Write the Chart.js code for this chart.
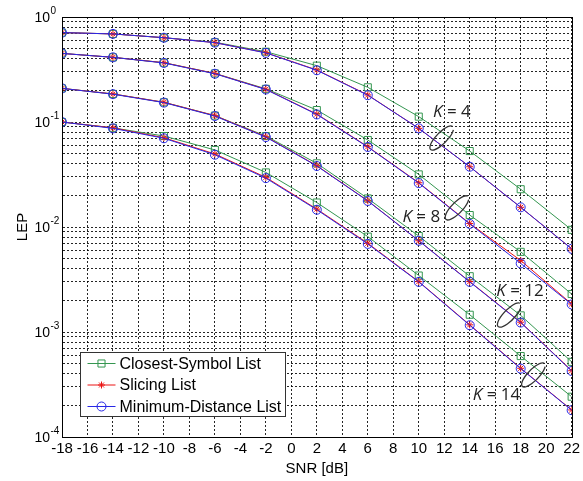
<!DOCTYPE html>
<html>
<head>
<meta charset="utf-8">
<script src="https://cdn.jsdelivr.net/npm/chart.js@4.4.0/dist/chart.umd.min.js"></script>
<style>
html, body { margin: 0; padding: 0; background: #fff; }
#wrap { width: 583px; height: 481px; }
</style>
</head>
<body>
<div id="wrap"><canvas id="graph-lep" width="583" height="481"></canvas></div>
<script>
// SNR points (dB) where markers sit
var snr = [-18, -14, -10, -6, -2, 2, 6, 10, 14, 18, 22];

var seriesNames = ['Closest-Symbol List', 'Slicing List', 'Minimum-Distance List'];
var kValues = [4, 8, 12, 14];

// LEP
var closestK4 = [0.71, 0.69, 0.635, 0.575, 0.467, 0.344, 0.214, 0.1125, 0.0529, 0.0229, 0.0094];
var slicingK4 = [0.71, 0.69, 0.635, 0.57, 0.457, 0.313, 0.181, 0.087, 0.0375, 0.0154, 0.0062];
var minDistK4 = [0.71, 0.69, 0.635, 0.57, 0.455, 0.311, 0.180, 0.087, 0.0375, 0.0154, 0.0062];

var closestK8 = [0.45, 0.413, 0.367, 0.29, 0.207, 0.13, 0.0674, 0.0317, 0.013, 0.0058, 0.0023];
var slicingK8 = [0.45, 0.413, 0.367, 0.29, 0.205, 0.119, 0.0582, 0.0264, 0.0108, 0.0048, 0.00185];
var minDistK8 = [0.45, 0.413, 0.365, 0.288, 0.204, 0.118, 0.0578, 0.0262, 0.0107, 0.0045, 0.00183];

var closestK12 = [0.209, 0.185, 0.154, 0.115, 0.0735, 0.0404, 0.0187, 0.0082, 0.0034, 0.00144, 0.00052];
var slicingK12 = [0.209, 0.185, 0.154, 0.115, 0.0724, 0.0384, 0.0178, 0.0074, 0.00302, 0.00124, 0.000428];
var minDistK12 = [0.209, 0.184, 0.153, 0.114, 0.0718, 0.0381, 0.0177, 0.0074, 0.00300, 0.00123, 0.000425];

var closestK14 = [0.1, 0.088, 0.0735, 0.0542, 0.0331, 0.0171, 0.0081, 0.00345, 0.00146, 0.00059, 0.000242];
var slicingK14 = [0.1, 0.088, 0.0708, 0.0496, 0.0297, 0.0148, 0.0070, 0.00302, 0.00117, 0.000451, 0.000181];
var minDistK14 = [0.1, 0.087, 0.0700, 0.0488, 0.0292, 0.0146, 0.0069, 0.00300, 0.00116, 0.000448, 0.00018];

// axis ticks
var xTicks = [-18, -16, -14, -12, -10, -8, -6, -4, -2, 0, 2, 4, 6, 8, 10, 12, 14, 16, 18, 20, 22];
var yDecades = [1e-4, 1e-3, 1e-2, 1e-1, 1];
var yDecadeExp = ['-4', '-3', '-2', '-1', '0'];
var yMinor = [2, 3, 4, 5, 6, 7, 8, 9];

// "K = n" notes: label position and ellipse position (SNR, LEP)
var noteText = [4, 8, 12, 14];
var noteLabelX = [12.6, 10.2, 17.95, 16.1];
var noteLabelY = [0.1245, 0.01245, 0.00246, 0.000251];
var noteRingX = [11.8, 13.0, 17.1, 19.0];
var noteRingY = [0.0704, 0.0152, 0.00145, 0.00039];

var colors = ['rgb(52,150,80)', 'rgb(235,20,20)', 'rgb(40,40,230)'];
var pointStyles = ['rect', 'star', 'circle'];
var pointSizes = [5, 3.5, 4.5];

function toPoints(values) {
    return snr.map(function (x, i) { return { x: x, y: values[i] }; });
}

function buildDatasets() {
    var groups = [
        [closestK4, slicingK4, minDistK4],
        [closestK8, slicingK8, minDistK8],
        [closestK12, slicingK12, minDistK12],
        [closestK14, slicingK14, minDistK14]
    ];
    var sets = [];
    groups.forEach(function (group, g) {
        group.forEach(function (values, s) {
            sets.push({
                label: seriesNames[s] + ' K=' + kValues[g],
                data: toPoints(values),
                borderColor: colors[s],
                backgroundColor: 'rgba(0,0,0,0)',
                borderWidth: 1,
                pointStyle: pointStyles[s],
                pointRadius: pointSizes[s],
                pointBorderWidth: 1,
                pointBorderColor: colors[s],
                pointBackgroundColor: 'rgba(0,0,0,0)',
                order: 3 - s,
                tension: 0
            });
        });
    });
    return sets;
}

var matlabLook = {
    id: 'matlabLook',
    afterDraw: function (chart) {
        var ctx = chart.ctx;
        var area = chart.chartArea;
        var xs = chart.scales.x;
        var ys = chart.scales.y;

        // box round the axes
        ctx.save();
        ctx.strokeStyle = '#000';
        ctx.lineWidth = 1;
        ctx.setLineDash([]);
        ctx.strokeRect(Math.round(area.left) + 0.5, Math.round(area.top) + 0.5,
            Math.round(area.right - area.left), Math.round(area.bottom - area.top));

        // y tick labels 10^n
        ctx.fillStyle = '#000';
        ctx.textBaseline = 'middle';
        yDecades.forEach(function (v, i) {
            var y = ys.getPixelForValue(v);
            ctx.font = '14px "Liberation Sans", Arial, sans-serif';
            ctx.textAlign = 'right';
            ctx.fillText('10', 50, y + 1);
            ctx.font = '10px "Liberation Sans", Arial, sans-serif';
            ctx.textAlign = 'left';
            ctx.fillText(yDecadeExp[i], 50.5, y - 6);
        });

        // K notes
        ctx.strokeStyle = '#333';
        ctx.lineWidth = 1.3;
        noteText.forEach(function (k, i) {
            var cx = xs.getPixelForValue(noteRingX[i]);
            var cy = ys.getPixelForValue(noteRingY[i]);
            ctx.beginPath();
            ctx.ellipse(cx, cy, 16, 5.5, -0.8, 0.5, Math.PI * 2 - 0.1);
            ctx.stroke();

            var tx = xs.getPixelForValue(noteLabelX[i]);
            var ty = ys.getPixelForValue(noteLabelY[i]);
            ctx.fillStyle = '#222';
            ctx.textBaseline = 'middle';
            ctx.font = 'italic 17px "Open Sans", sans-serif';
            var kw = ctx.measureText('K').width;
            ctx.font = '17px "Open Sans", sans-serif';
            var rest = ' = ' + k;
            var rw = ctx.measureText(rest).width;
            var x0 = tx - (kw + rw) / 2;
            ctx.textAlign = 'left';
            ctx.font = 'italic 17px "Open Sans", sans-serif';
            ctx.fillText('K', x0, ty);
            ctx.font = '17px "Open Sans", sans-serif';
            ctx.fillText(rest, x0 + kw, ty);
        });

        // legend inside the axes
        var lx = Math.round(area.left) + 18.5;
        var ly = Math.round(area.bottom) - 84.5;
        ctx.setLineDash([]);
        ctx.fillStyle = '#fff';
        ctx.fillRect(lx, ly, 205, 64);
        ctx.strokeStyle = '#333';
        ctx.lineWidth = 1;
        ctx.strokeRect(lx, ly, 205, 64);
        ctx.font = '16px "Liberation Sans", Arial, sans-serif';
        ctx.textBaseline = 'middle';
        ctx.textAlign = 'left';
        seriesNames.forEach(function (name, s) {
            var y = ly + 11 + s * 21.5;
            ctx.strokeStyle = colors[s];
            ctx.lineWidth = 1;
            ctx.beginPath();
            ctx.moveTo(lx + 7, y);
            ctx.lineTo(lx + 35, y);
            ctx.stroke();
            ctx.fillStyle = 'rgba(0,0,0,0)';
            Chart.helpers.drawPoint(ctx, {
                pointStyle: pointStyles[s],
                radius: pointSizes[s],
                rotation: 0,
                borderWidth: 1
            }, lx + 21, y);
            ctx.fillStyle = '#000';
            ctx.fillText(name, lx + 39, y + 1);
        });
        ctx.restore();
    }
};

function createGraphLep() {
    var ctx = document.getElementById('graph-lep').getContext('2d');

    var data = {
        datasets: buildDatasets()
    };

    var gridStyle = {
        color: 'rgba(0,0,0,0.85)',
        lineWidth: 1,
        drawTicks: false,
        borderDash: [2, 2],
        tickBorderDash: [2, 2]
    };

    var options = {
        responsive: false,
        animation: false,
        devicePixelRatio: 1,
        layout: {
            padding: { top: 17, right: 8, bottom: 0, left: 0 }
        },
        plugins: {
            legend: { display: false },
            tooltip: { enabled: false }
        },
        scales: {
            x: {
                type: 'linear',
                min: -18,
                max: 22,
                afterBuildTicks: function (scale) {
                    scale.ticks = xTicks.map(function (v) { return { value: v }; });
                },
                afterFit: function (scale) { scale.height = 44; },
                ticks: {
                    autoSkip: false,
                    maxRotation: 0,
                    padding: 3,
                    color: '#000',
                    font: { family: '"Liberation Sans", Arial, sans-serif', size: 15 }
                },
                grid: gridStyle,
                border: { display: true, color: '#000', dash: [2, 2] },
                title: {
                    display: true,
                    text: 'SNR [dB]',
                    color: '#000',
                    font: { family: '"Liberation Sans", Arial, sans-serif', size: 15 },
                    padding: { top: 0, bottom: 3 }
                }
            },
            y: {
                type: 'logarithmic',
                min: 1e-4,
                max: 1,
                afterBuildTicks: function (scale) {
                    var t = [];
                    yDecades.forEach(function (d, i) {
                        t.push({ value: d, major: true });
                        if (i < yDecades.length - 1) {
                            yMinor.forEach(function (m) { t.push({ value: d * m }); });
                        }
                    });
                    scale.ticks = t;
                },
                afterFit: function (scale) { scale.width = 62; },
                ticks: { display: false },
                grid: gridStyle,
                border: { display: true, color: '#000', dash: [2, 2] },
                title: {
                    display: true,
                    text: 'LEP',
                    color: '#000',
                    font: { family: '"Liberation Sans", Arial, sans-serif', size: 15 },
                    padding: { top: 14, bottom: 0 }
                }
            }
        }
    };

    var chart = new Chart(ctx, {
        type: 'line',
        data: data,
        options: options,
        plugins: [matlabLook]
    });
}

createGraphLep();
</script>
</body>
</html>
